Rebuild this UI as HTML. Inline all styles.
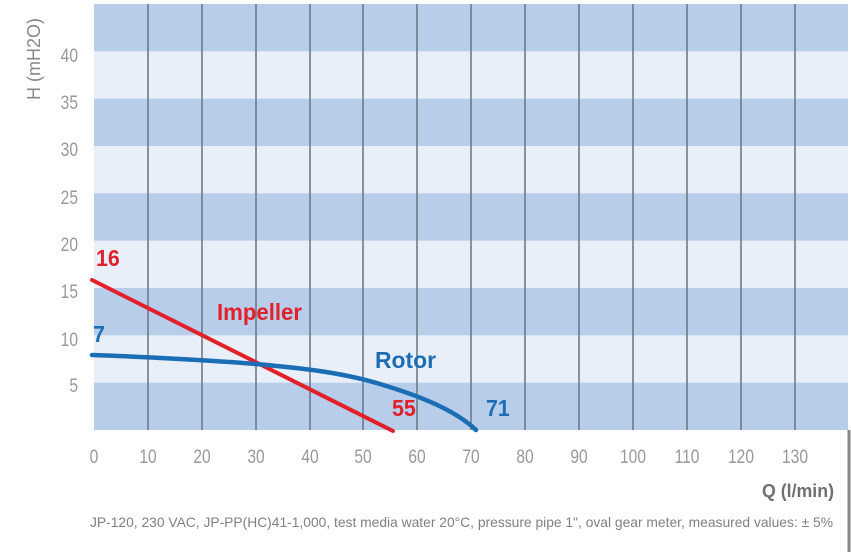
<!DOCTYPE html>
<html><head><meta charset="utf-8"><style>
html,body{margin:0;padding:0;background:#fff;width:851px;height:552px;overflow:hidden}
svg{display:block}
</style></head><body>
<svg width="851" height="552" xmlns="http://www.w3.org/2000/svg" font-family="Liberation Sans, sans-serif">
<rect x="94" y="4" width="754" height="426" fill="#e8eff9"/>
<g fill="#b7cdea">
<rect x="94" y="4" width="754" height="47.3"/>
<rect x="94" y="98.7" width="754" height="47.3"/>
<rect x="94" y="193.3" width="754" height="47.3"/>
<rect x="94" y="288" width="754" height="47.3"/>
<rect x="94" y="382.7" width="754" height="47.3"/>
</g>
<g stroke="#6f7a86" stroke-width="1.6">
<line x1="148" y1="4" x2="148" y2="430"/><line x1="202" y1="4" x2="202" y2="430"/>
<line x1="256" y1="4" x2="256" y2="430"/><line x1="310" y1="4" x2="310" y2="430"/>
<line x1="363" y1="4" x2="363" y2="430"/><line x1="417" y1="4" x2="417" y2="430"/>
<line x1="471" y1="4" x2="471" y2="430"/><line x1="525" y1="4" x2="525" y2="430"/>
<line x1="579" y1="4" x2="579" y2="430"/><line x1="633" y1="4" x2="633" y2="430"/>
<line x1="687" y1="4" x2="687" y2="430"/><line x1="741" y1="4" x2="741" y2="430"/>
<line x1="795" y1="4" x2="795" y2="430"/>
</g>
<line x1="849" y1="430" x2="849" y2="552" stroke="#888" stroke-width="3"/>
<path d="M92 280 L393 431" stroke="#e2202a" stroke-width="4" fill="none" stroke-linecap="round"/>
<path d="M92 355 C150 357 220 361 256 364 C300 368 340 372 380 384 C420 396 455 410 476 430" stroke="#1b6db4" stroke-width="4.5" fill="none" stroke-linecap="round"/>
<g font-weight="bold" font-size="23">
<text transform="translate(96,266) scale(0.93,1)" fill="#e2202a">16</text>
<text transform="translate(93,342) scale(0.93,1)" fill="#1b6db4">7</text>
<text x="217" y="320" fill="#e2202a" textLength="85" lengthAdjust="spacingAndGlyphs">Impeller</text>
<text x="375" y="368" fill="#1b6db4" textLength="61" lengthAdjust="spacingAndGlyphs">Rotor</text>
<text transform="translate(392,416) scale(0.93,1)" fill="#e2202a">55</text>
<text transform="translate(486,416) scale(0.93,1)" fill="#1b6db4">71</text>
</g>
<g fill="#999" font-size="19" text-anchor="middle">
<text transform="translate(94,463) scale(0.82,1)">0</text>
<text transform="translate(148,463) scale(0.82,1)">10</text>
<text transform="translate(202,463) scale(0.82,1)">20</text>
<text transform="translate(256,463) scale(0.82,1)">30</text>
<text transform="translate(310,463) scale(0.82,1)">40</text>
<text transform="translate(363,463) scale(0.82,1)">50</text>
<text transform="translate(417,463) scale(0.82,1)">60</text>
<text transform="translate(471,463) scale(0.82,1)">70</text>
<text transform="translate(525,463) scale(0.82,1)">80</text>
<text transform="translate(579,463) scale(0.82,1)">90</text>
<text transform="translate(633,463) scale(0.82,1)">100</text>
<text transform="translate(687,463) scale(0.82,1)">110</text>
<text transform="translate(741,463) scale(0.82,1)">120</text>
<text transform="translate(795,463) scale(0.82,1)">130</text>
</g>
<g fill="#999" font-size="19" text-anchor="end">
<text transform="translate(78,62) scale(0.82,1)">40</text>
<text transform="translate(78,109) scale(0.82,1)">35</text>
<text transform="translate(78,156) scale(0.82,1)">30</text>
<text transform="translate(78,204) scale(0.82,1)">25</text>
<text transform="translate(78,251) scale(0.82,1)">20</text>
<text transform="translate(78,298) scale(0.82,1)">15</text>
<text transform="translate(78,346) scale(0.82,1)">10</text>
<text transform="translate(78,392) scale(0.82,1)">5</text>
</g>
<text transform="translate(40,59) rotate(-90)" text-anchor="middle" fill="#888" font-size="18" textLength="82" lengthAdjust="spacingAndGlyphs">H (mH2O)</text>
<text x="834" y="497" text-anchor="end" fill="#707070" font-size="18" font-weight="bold" textLength="72" lengthAdjust="spacingAndGlyphs">Q (l/min)</text>
<text x="90" y="527" fill="#808080" font-size="14" textLength="743" lengthAdjust="spacingAndGlyphs">JP-120, 230 VAC, JP-PP(HC)41-1,000, test media water 20°C, pressure pipe 1", oval gear meter, measured values: ± 5%</text>
</svg>
</body></html>
